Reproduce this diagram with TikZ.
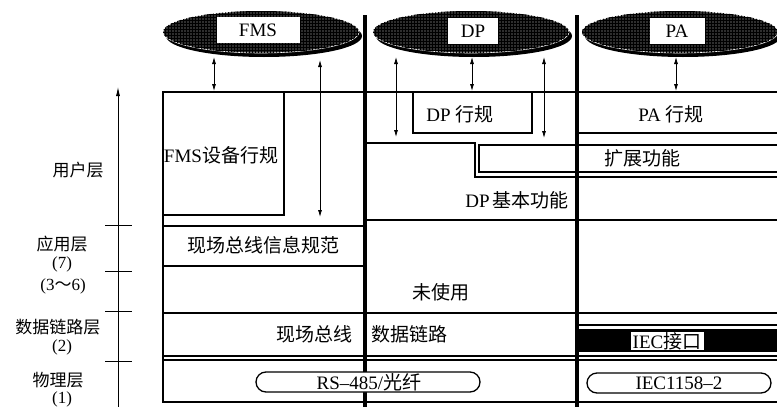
\documentclass[tikz,border=0pt]{standalone}
\usepackage{fontspec}
\setmainfont{Liberation Serif}
\newfontfamily\cjk{Noto Sans CJK SC}
\usetikzlibrary{arrows.meta,patterns,shapes.geometric}
\newcommand{\zh}[1]{{\cjk #1}}
\begin{document}
\begin{tikzpicture}[x=1pt,y=-1pt,
  ln/.style={line width=1.3pt},
  thickln/.style={line width=4.5pt},
  dar/.style={{Latex[length=7pt,width=4pt]}-{Latex[length=7pt,width=4pt]}, line width=0.8pt},
  txt/.style={font=\fontsize{19}{22}\selectfont, inner sep=0pt},
  side/.style={font=\fontsize{17}{20}\selectfont, inner sep=0pt},
  ell/.style={ellipse, draw=white, line width=0.6pt, fill=black!82,
    minimum width=196pt, minimum height=42pt, inner sep=0pt,
    postaction={pattern=grid, pattern color=black}},
  tagbox/.style={txt, fill=white, minimum height=26pt},
  stad/.style={ln, draw, fill=white, rounded corners=10pt}
]
\useasboundingbox (0,0) rectangle (777,407);

% ---------- ellipses ----------
\fill[black] (264,36) ellipse [x radius=98, y radius=21];
\node[ell] (efms) at (261,32) {};
\node[tagbox, minimum width=83pt] (tfms) at (258,30) {FMS};
\fill[black] (474,36) ellipse [x radius=98, y radius=21];
\node[ell] (edp) at (471,32) {};
\node[tagbox, minimum width=50pt] (tdp) at (473,31) {DP};
\fill[black] (683,36) ellipse [x radius=98, y radius=21];
\node[ell] (epa) at (680,32) {};
\node[tagbox, minimum width=55pt] (tpa) at (677,31) {PA};

% ---------- frame and layer lines ----------
\draw[ln] (777,92) -- (163,92) -- (163,402) -- (777,402);
% FMS column
\draw[ln] (163,215) -- (284,215) -- (284,92);
\draw[ln] (163,226) -- (365,226);
\draw[ln] (163,266) -- (365,266);
% DP column
\draw[ln] (413,92) -- (413,133) -- (532,133) -- (532,92);
\draw[ln] (365,143) -- (475,143) -- (475,177) -- (777,177);
\draw[ln] (777,145) -- (479,145) -- (479,172) -- (777,172);
\draw[ln] (365,220) -- (777,220);
% PA column
\draw[ln] (577,133) -- (777,133);
% lower layers
\draw[ln] (163,313) -- (777,313);
\draw[ln] (577,325) -- (777,325);
\fill[black] (579,329) rectangle (777,352);
\draw[ln] (163,356) -- (777,356);
\draw[ln] (163,360) -- (777,360);

% ---------- thick separators ----------
\draw[thickln] (365,15) -- (365,407);
\draw[thickln] (577,15) -- (577,407);

% ---------- arrows ----------
\coordinate (a1t) at (214,57); \coordinate (a1b) at (214,91);
\coordinate (a2t) at (320,60); \coordinate (a2b) at (320,217);
\coordinate (a3t) at (396,57); \coordinate (a3b) at (396,137);
\coordinate (a4t) at (472,57); \coordinate (a4b) at (472,91);
\coordinate (a5t) at (544,57); \coordinate (a5b) at (544,138);
\coordinate (a6t) at (676,57); \coordinate (a6b) at (676,91);
\draw[dar] (a1t) -- (a1b);
\draw[dar] (a2t) -- (a2b);
\draw[dar] (a3t) -- (a3b);
\draw[dar] (a4t) -- (a4b);
\draw[dar] (a5t) -- (a5b);
\draw[dar] (a6t) -- (a6b);

% ---------- left axis ----------
\coordinate (axb) at (118,407); \coordinate (axt) at (118,87);
\draw[line width=0.8pt, -{Latex[length=9pt,width=4pt]}] (axb) -- (axt);
\foreach \yy in {225,271,311,361} \draw[line width=0.9pt] (105,\yy) -- (132,\yy);

% ---------- stadiums ----------
\draw[stad] (256,372) rectangle (480,392);
\node[txt] (rs) at (369,382) {RS–485/\zh{光纤}};
\draw[stad] (587,373) rectangle (771,393);
\node[txt] (iec) at (679,383) {IEC1158–2};

% ---------- texts ----------
\node[txt] (fmsdev) at (221,155) {FMS\zh{设备行规}};
\node[txt] (fbinfo) at (263,245) {\zh{现场总线信息规范}};
\node[txt] (dpprof) at (460,114) {DP \zh{行规}};
\node[txt] (paprof) at (671,114) {PA \zh{行规}};
\node[txt] (ext) at (642,158) {\zh{扩展功能}};
\node[txt] (dpbase) at (517,200) {DP\hspace{3pt}\zh{基本功能}};
\node[txt] (unused) at (441,292) {\zh{未使用}};
\node[txt] (fb) at (314,334) {\zh{现场总线}};
\node[txt] (dl) at (409,334) {\zh{数据链路}};
\node[tagbox, minimum width=73pt, minimum height=18pt] (iecif) at (667,341) {IEC\zh{接口}};

% ---------- layer labels ----------
\node[side] (l1) at (78,170) {\zh{用户层}};
\node[side] (l2) at (62,244) {\zh{应用层}};
\node[side] (l3) at (62,264) {(7)};
\node[side] (l4) at (63,286) {(3\zh{～}6)};
\node[side] (l5) at (58,327) {\zh{数据链路层}};
\node[side] (l6) at (62,347) {(2)};
\node[side] (l7) at (58,380) {\zh{物理层}};
\node[side] (l8) at (62,399) {(1)};
\end{tikzpicture}
\end{document}
